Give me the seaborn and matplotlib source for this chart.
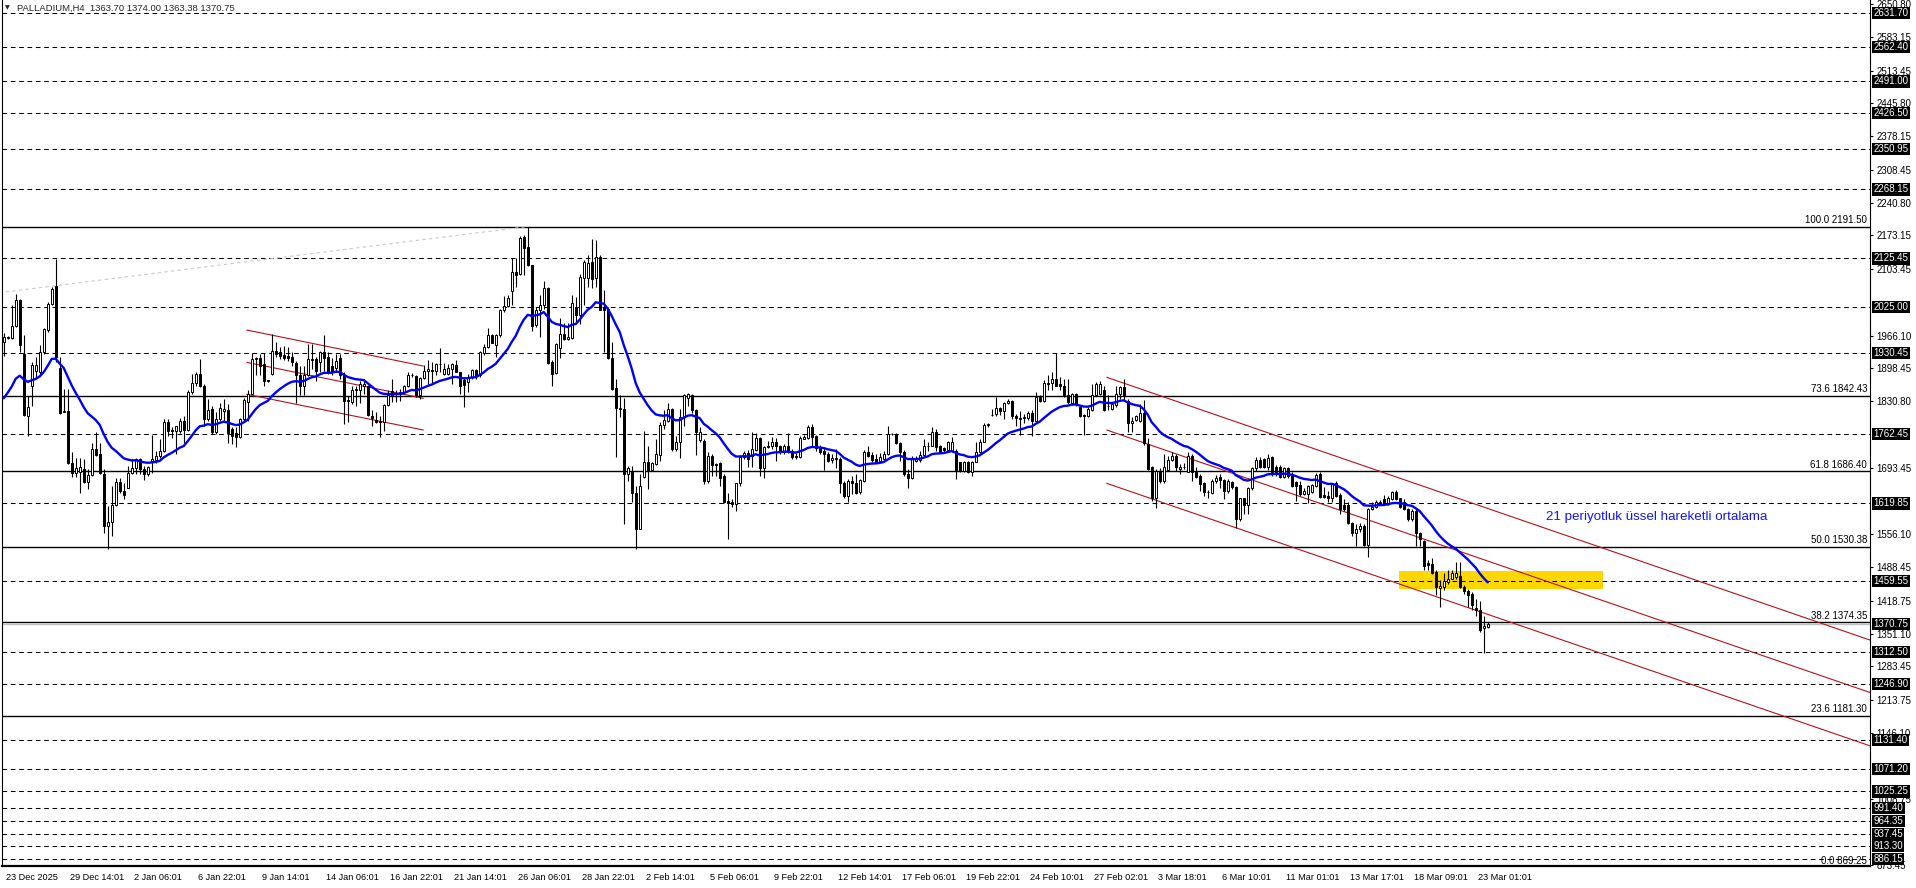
import numpy as np
import matplotlib
matplotlib.use("Agg")
import matplotlib.pyplot as plt
import matplotlib.transforms as mtrans
from matplotlib.patches import Rectangle
import seaborn as sns

# PALLADIUM H4 candles (bar 0 = 23 Dec 2025)
opens = [
    1953, 1962, 1961, 1986, 2040, 1929, 1801, 1863, 1894, 1891, 1932, 1977,
    2032, 2069, 1899, 1808, 1810, 1704, 1683, 1685, 1690, 1664, 1678, 1733,
    1721, 1680, 1574, 1581, 1616, 1664, 1645, 1652, 1683, 1692, 1711, 1691,
    1680, 1708, 1710, 1717, 1728, 1788, 1771, 1770, 1770, 1790, 1772, 1849,
    1868, 1887, 1862, 1794, 1814, 1768, 1794, 1811, 1812, 1774, 1765, 1756,
    1794, 1830, 1846, 1917, 1920, 1908, 1874, 1887, 1935, 1933, 1926, 1924,
    1922, 1910, 1885, 1863, 1884, 1915, 1918, 1911, 1932, 1922, 1903, 1899,
    1920, 1885, 1833, 1830, 1853, 1853, 1863, 1863, 1801, 1793, 1791, 1787,
    1822, 1851, 1848, 1846, 1850, 1863, 1884, 1882, 1844, 1879, 1893, 1895,
    1894, 1907, 1886, 1888, 1898, 1906, 1891, 1875, 1870, 1881, 1895, 1884,
    1931, 1943, 1968, 1946, 1967, 2019, 2028, 2058, 2098, 2093, 2169, 2150,
    2111, 1988, 2019, 2029, 2065, 1912, 1889, 1941, 1970, 1960, 1961, 2026,
    2008, 2086, 2086, 2119, 2086, 2129, 2026, 2022, 1920, 1858, 1814, 1815,
    1680, 1687, 1642, 1568, 1675, 1706, 1689, 1701, 1720, 1782, 1791, 1814,
    1733, 1746, 1798, 1838, 1844, 1812, 1751, 1749, 1667, 1717, 1701, 1703,
    1677, 1625, 1622, 1618, 1662, 1715, 1724, 1718, 1731, 1754, 1692, 1736,
    1738, 1747, 1738, 1725, 1739, 1729, 1718, 1715, 1753, 1754, 1777, 1758,
    1734, 1729, 1722, 1710, 1714, 1711, 1663, 1636, 1667, 1663, 1644, 1667,
    1725, 1720, 1711, 1708, 1711, 1722, 1764, 1763, 1745, 1727, 1680, 1673,
    1708, 1710, 1720, 1738, 1739, 1767, 1738, 1734, 1731, 1729, 1729, 1705,
    1687, 1706, 1684, 1706, 1725, 1747, 1781, 1802, 1805, 1817, 1810, 1828,
    1832, 1800, 1796, 1797, 1796, 1807, 1791, 1839, 1832, 1867, 1869, 1877,
    1867, 1863, 1844, 1828, 1846, 1819, 1803, 1800, 1812, 1844, 1846, 1853,
    1821, 1814, 1822, 1846, 1860, 1832, 1786, 1793, 1791, 1807, 1743, 1694,
    1630, 1687, 1666, 1689, 1710, 1717, 1691, 1694, 1685, 1717, 1685, 1677,
    1662, 1644, 1641, 1666, 1675, 1669, 1646, 1664, 1653, 1588, 1630, 1616,
    1651, 1692, 1710, 1711, 1694, 1715, 1696, 1696, 1675, 1692, 1680, 1664,
    1657, 1639, 1639, 1644, 1656, 1680, 1637, 1635, 1632, 1662, 1637, 1616,
    1616, 1579, 1558, 1568, 1574, 1535, 1608, 1613, 1620, 1628, 1618, 1628,
    1644, 1630, 1623, 1609, 1587, 1604, 1558, 1542, 1496, 1494, 1478, 1445,
    1447, 1457, 1464, 1468, 1469, 1448, 1438, 1433, 1404, 1399, 1362, 1363.70,
]
highs = [
    1971, 1966, 2029, 2053, 2041, 1967, 1842, 1911, 1922, 1946, 1982, 2036,
    2067, 2124, 1922, 1856, 1856, 1725, 1714, 1714, 1711, 1690, 1744, 1768,
    1744, 1690, 1614, 1656, 1672, 1672, 1663, 1698, 1712, 1714, 1714, 1697,
    1697, 1761, 1728, 1752, 1794, 1794, 1777, 1780, 1797, 1801, 1853, 1887,
    1891, 1917, 1866, 1835, 1821, 1808, 1827, 1835, 1825, 1777, 1777, 1797,
    1837, 1855, 1931, 1922, 1929, 1931, 1875, 1969, 1954, 1942, 1944, 1942,
    1932, 1913, 1903, 1904, 1949, 1949, 1922, 1935, 1967, 1932, 1920, 1929,
    1929, 1891, 1842, 1863, 1863, 1873, 1877, 1864, 1812, 1808, 1800, 1825,
    1853, 1877, 1853, 1856, 1865, 1892, 1890, 1884, 1881, 1905, 1915, 1912,
    1910, 1941, 1910, 1908, 1910, 1915, 1892, 1881, 1888, 1898, 1898, 1934,
    1948, 1981, 1970, 1970, 2022, 2049, 2051, 2127, 2126, 2171, 2174, 2191.5,
    2113, 2026, 2050, 2078, 2067, 1915, 1952, 2002, 1993, 1993, 2050, 2046,
    2093, 2122, 2133, 2166, 2164, 2133, 2060, 2026, 1953, 1877, 1843, 1837,
    1698, 1698, 1656, 1680, 1770, 1738, 1706, 1753, 1787, 1812, 1827, 1816,
    1760, 1815, 1846, 1847, 1846, 1815, 1777, 1753, 1725, 1722, 1704, 1706,
    1680, 1641, 1628, 1663, 1720, 1729, 1731, 1768, 1765, 1756, 1739, 1749,
    1756, 1754, 1741, 1743, 1765, 1732, 1724, 1758, 1761, 1781, 1784, 1761,
    1741, 1736, 1727, 1722, 1732, 1715, 1667, 1670, 1677, 1680, 1670, 1731,
    1739, 1725, 1722, 1724, 1729, 1779, 1765, 1765, 1746, 1731, 1691, 1718,
    1718, 1729, 1753, 1746, 1777, 1774, 1741, 1736, 1749, 1756, 1732, 1705,
    1708, 1708, 1708, 1746, 1753, 1786, 1786, 1815, 1839, 1819, 1830, 1836,
    1834, 1805, 1810, 1805, 1810, 1812, 1850, 1843, 1874, 1884, 1891, 1931,
    1881, 1877, 1877, 1848, 1848, 1822, 1805, 1819, 1867, 1870, 1872, 1862,
    1843, 1828, 1863, 1863, 1876, 1836, 1798, 1803, 1825, 1834, 1754, 1698,
    1691, 1692, 1722, 1717, 1725, 1722, 1701, 1703, 1725, 1722, 1694, 1680,
    1664, 1648, 1671, 1678, 1680, 1671, 1670, 1666, 1656, 1632, 1632, 1653,
    1694, 1715, 1715, 1713, 1722, 1718, 1699, 1699, 1694, 1694, 1684, 1666,
    1666, 1651, 1657, 1660, 1682, 1685, 1653, 1646, 1663, 1666, 1641, 1628,
    1622, 1581, 1577, 1579, 1577, 1611, 1622, 1627, 1627, 1637, 1635, 1646,
    1648, 1632, 1628, 1611, 1609, 1608, 1561, 1545, 1504, 1507, 1483, 1462,
    1476, 1483, 1483, 1498, 1498, 1452, 1443, 1436, 1422, 1418, 1388, 1374.00,
]
lows = [
    1925, 1960, 1960, 1984, 1932, 1801, 1758, 1821, 1877, 1884, 1929, 1974,
    2029, 1911, 1804, 1808, 1701, 1675, 1675, 1642, 1663, 1649, 1676, 1718,
    1680, 1559, 1526, 1553, 1614, 1642, 1628, 1652, 1680, 1680, 1680, 1669,
    1676, 1683, 1704, 1714, 1725, 1759, 1754, 1721, 1766, 1745, 1770, 1846,
    1863, 1860, 1780, 1790, 1763, 1763, 1790, 1790, 1745, 1742, 1737, 1754,
    1790, 1790, 1846, 1884, 1884, 1863, 1870, 1885, 1922, 1918, 1915, 1913,
    1904, 1828, 1844, 1844, 1882, 1897, 1873, 1891, 1894, 1887, 1884, 1891,
    1877, 1783, 1787, 1825, 1821, 1828, 1846, 1801, 1780, 1786, 1756, 1770,
    1821, 1829, 1829, 1832, 1846, 1860, 1881, 1839, 1836, 1877, 1867, 1867,
    1884, 1891, 1884, 1885, 1867, 1891, 1846, 1818, 1850, 1877, 1877, 1881,
    1926, 1941, 1950, 1922, 1964, 2015, 2026, 2029, 2067, 2092, 2092, 2109,
    1975, 1984, 1964, 2022, 1908, 1863, 1888, 1920, 1957, 1957, 1960, 1995,
    1991, 2029, 2067, 2064, 2067, 2019, 1932, 1919, 1853, 1715, 1798, 1577,
    1666, 1622, 1525, 1566, 1673, 1649, 1687, 1699, 1708, 1774, 1787, 1729,
    1729, 1713, 1780, 1820, 1807, 1720, 1746, 1660, 1662, 1677, 1677, 1656,
    1620, 1546, 1613, 1604, 1656, 1711, 1696, 1694, 1729, 1677, 1673, 1734,
    1732, 1708, 1722, 1722, 1724, 1711, 1711, 1713, 1752, 1753, 1736, 1729,
    1722, 1689, 1705, 1703, 1692, 1641, 1632, 1623, 1639, 1639, 1639, 1665,
    1715, 1705, 1703, 1706, 1710, 1720, 1761, 1743, 1708, 1677, 1651, 1671,
    1706, 1706, 1718, 1729, 1738, 1729, 1725, 1725, 1729, 1727, 1670, 1684,
    1685, 1682, 1677, 1705, 1724, 1746, 1777, 1800, 1800, 1803, 1794, 1826,
    1794, 1779, 1761, 1786, 1793, 1758, 1789, 1830, 1830, 1853, 1853, 1862,
    1853, 1839, 1826, 1823, 1821, 1798, 1761, 1798, 1810, 1843, 1843, 1810,
    1812, 1812, 1818, 1836, 1832, 1767, 1768, 1791, 1787, 1740, 1689, 1625,
    1611, 1663, 1663, 1687, 1708, 1687, 1680, 1691, 1684, 1666, 1673, 1646,
    1635, 1630, 1639, 1663, 1651, 1628, 1642, 1649, 1570, 1583, 1597, 1597,
    1648, 1687, 1692, 1692, 1689, 1677, 1677, 1673, 1673, 1673, 1653, 1625,
    1635, 1637, 1620, 1641, 1653, 1632, 1630, 1623, 1622, 1634, 1597, 1604,
    1577, 1552, 1532, 1561, 1532, 1510, 1606, 1611, 1618, 1616, 1616, 1627,
    1627, 1611, 1606, 1584, 1584, 1532, 1532, 1483, 1483, 1475, 1431, 1407,
    1442, 1454, 1463, 1464, 1445, 1433, 1407, 1400, 1387, 1355, 1311, 1363.38,
]
closes = [
    1963, 1963, 1986, 2039, 1947, 1802, 1818, 1906, 1906, 1933, 1980, 2032,
    2063, 1922, 1806, 1811, 1703, 1683, 1693, 1694, 1664, 1678, 1733, 1719,
    1683, 1574, 1581, 1616, 1664, 1645, 1637, 1683, 1692, 1711, 1690, 1680,
    1694, 1711, 1717, 1728, 1788, 1770, 1769, 1779, 1790, 1772, 1849, 1868,
    1887, 1862, 1794, 1813, 1768, 1794, 1816, 1814, 1766, 1759, 1756, 1794,
    1833, 1846, 1918, 1920, 1904, 1873, 1873, 1935, 1929, 1924, 1920, 1920,
    1911, 1885, 1863, 1884, 1918, 1918, 1894, 1932, 1920, 1891, 1892, 1913,
    1885, 1832, 1832, 1853, 1856, 1866, 1866, 1802, 1796, 1787, 1787, 1822,
    1843, 1843, 1847, 1850, 1863, 1885, 1885, 1844, 1879, 1893, 1897, 1894,
    1908, 1908, 1898, 1899, 1908, 1892, 1863, 1865, 1881, 1895, 1884, 1932,
    1943, 1968, 1950, 1968, 2019, 2028, 2043, 2098, 2092, 2167, 2148, 2111,
    1986, 2019, 2029, 2064, 1910, 1888, 1948, 1970, 1960, 1963, 2034, 2008,
    2088, 2119, 2117, 2084, 2129, 2019, 2019, 1920, 1856, 1816, 1816, 1680,
    1692, 1642, 1568, 1656, 1706, 1689, 1703, 1722, 1782, 1793, 1814, 1733,
    1747, 1798, 1843, 1845, 1812, 1768, 1767, 1667, 1717, 1699, 1700, 1673,
    1622, 1620, 1618, 1662, 1715, 1724, 1711, 1732, 1754, 1692, 1736, 1738,
    1746, 1738, 1725, 1739, 1729, 1715, 1715, 1754, 1756, 1777, 1756, 1734,
    1727, 1722, 1708, 1713, 1711, 1663, 1636, 1667, 1662, 1642, 1669, 1725,
    1717, 1710, 1706, 1715, 1722, 1763, 1763, 1745, 1727, 1680, 1673, 1711,
    1711, 1720, 1739, 1739, 1767, 1736, 1727, 1731, 1747, 1747, 1689, 1687,
    1706, 1684, 1706, 1727, 1746, 1782, 1784, 1803, 1817, 1810, 1828, 1832,
    1800, 1796, 1795, 1798, 1807, 1791, 1839, 1832, 1869, 1869, 1877, 1863,
    1863, 1844, 1829, 1846, 1826, 1800, 1800, 1815, 1844, 1867, 1867, 1812,
    1820, 1825, 1846, 1860, 1843, 1786, 1791, 1800, 1807, 1745, 1691, 1630,
    1687, 1666, 1694, 1710, 1717, 1694, 1695, 1696, 1717, 1685, 1675, 1660,
    1644, 1643, 1666, 1673, 1669, 1646, 1666, 1653, 1588, 1630, 1616, 1651,
    1692, 1710, 1694, 1694, 1713, 1685, 1685, 1675, 1692, 1677, 1655, 1655,
    1639, 1646, 1656, 1657, 1678, 1634, 1634, 1632, 1662, 1635, 1608, 1608,
    1579, 1558, 1568, 1574, 1535, 1608, 1613, 1622, 1623, 1618, 1630, 1644,
    1628, 1613, 1608, 1587, 1604, 1558, 1546, 1490, 1492, 1476, 1447, 1450,
    1459, 1464, 1476, 1476, 1447, 1438, 1431, 1411, 1399, 1359, 1367, 1370.75,
]

ema_period = 21
ema_seed = 1837.0   # EMA value at the first visible bar

date_labels = ["23 Dec 2025", "29 Dec 14:01", "2 Jan 06:01", "6 Jan 22:01", "9 Jan 14:01",
               "14 Jan 06:01", "16 Jan 22:01", "21 Jan 14:01", "26 Jan 06:01", "28 Jan 22:01",
               "2 Feb 14:01", "5 Feb 06:01", "9 Feb 22:01", "12 Feb 14:01", "17 Feb 06:01",
               "19 Feb 22:01", "24 Feb 10:01", "27 Feb 02:01", "3 Mar 18:01", "6 Mar 10:01",
               "11 Mar 01:01", "13 Mar 17:01", "18 Mar 09:01", "23 Mar 01:01"]
label_every = 16

# right-axis scale labels (those hidden behind level boxes are left out)
price_ticks = [2650.80, 2583.15, 2513.45, 2445.80, 2378.15, 2308.45, 2240.80, 2173.15, 2103.45,
               1966.10, 1898.45, 1830.80, 1693.45, 1556.10, 1488.45,
               1418.75, 1351.10, 1283.45, 1213.75, 1146.10, 1008.75, 873.45]

# horizontal support/resistance levels (dashed) and the bid line
levels = [2631.70, 2562.40, 2491.00, 2426.50, 2350.95, 2268.15, 2125.45, 2025.00, 1930.45,
          1762.45, 1619.85, 1459.55, 1312.50, 1246.90, 1131.40, 1071.20, 1025.25, 991.40,
          964.35, 937.45, 913.30, 886.15]
bid = 1370.75

# fibonacci retracement
fib_pct = [100.0, 73.6, 61.8, 50.0, 38.2, 23.6, 0.0]
fib_vals = [2191.50, 1842.43, 1686.40, 1530.38, 1374.35, 1181.30, 869.25]
fib_line_x = [-1146, 131]
fib_line_y = [869.25, 2191.50]

# trend channels (bar index, price anchors)
jan_chan_x = [60.75, 104.9]
jan_chan_y = [[1977.8, 1903.5], [1911.1, 1836.8], [1845.1, 1771.4]]
mar_chan_x = [275.75, 374.1]
mar_chan_y = [[1880.2, 1600.6], [1771.4, 1492.1], [1661.3, 1382.0]]

# highlighted zone
zone_x = [348.8, 399.75]
zone_y = [1443.1, 1480.3]

sns.set_style("white")
plt.rcParams["font.family"] = ["Liberation Sans", "DejaVu Sans"]

o = np.array(opens, float)
c = np.array(closes, float)
h = np.maximum(np.array(highs, float), np.maximum(o, c))
l = np.minimum(np.array(lows, float), np.minimum(o, c))
bars = np.arange(len(c))

alpha = 2.0 / (ema_period + 1)
ema = [ema_seed]
for v in c[1:]:
    ema.append(ema[-1] + alpha * (v - ema[-1]))

W, H = 1916, 888
fig = plt.figure(figsize=(W / 100, H / 100), dpi=100)
ax = fig.add_axes([2 / W, 22 / H, 1868 / W, 866 / H])
xmin, xmax = -0.425, 466.575
ax.set_xlim(xmin, xmax)
ax.set_ylim(871.3, 2659.1)

# zone
ax.add_patch(Rectangle((zone_x[0], zone_y[0]), zone_x[1] - zone_x[0], zone_y[1] - zone_y[0],
                       facecolor="#FFD700", edgecolor="none", zorder=0.5))

for v in levels:
    ax.axhline(v, color="black", lw=0.75, ls=(0, (4.5, 3.5)), zorder=1)
for v in fib_vals:
    ax.axhline(v, color="black", lw=1.0, zorder=1)
ax.axhline(bid, color="#c0c0c0", lw=1.0, zorder=1)

ax.plot(fib_line_x, fib_line_y, color="#c8c8c8", lw=0.8, ls=(0, (3, 3)), zorder=1)

red = "#b5121b"
for ys in jan_chan_y:
    ax.plot(jan_chan_x, ys, color=red, lw=0.8, zorder=2)
for ys in mar_chan_y:
    slope = (ys[1] - ys[0]) / (mar_chan_x[1] - mar_chan_x[0])
    ax.plot([mar_chan_x[0], xmax], [ys[0], ys[0] + slope * (xmax - mar_chan_x[0])],
            color=red, lw=0.8, zorder=2)

# candles
up = c >= o
ax.vlines(bars, l, h, color="black", lw=0.8, zorder=3)
ax.bar(bars, np.abs(c - o), bottom=np.minimum(o, c), width=0.55,
       color=np.where(up, "white", "black"), edgecolor="black", linewidth=0.7, zorder=4)

sns.lineplot(x=bars, y=ema, ax=ax, color="#0000ff", linewidth=1.7, zorder=5)

ax.text(385.6, 1591.8, "21 periyotluk üssel hareketli ortalama", color="#1414ff",
        fontsize=9.6, va="center", ha="left", zorder=6)

# fib labels
for p, v in zip(fib_pct, fib_vals):
    ax.annotate(f"{p:.1f} {v:.2f}", xy=(1, v), xycoords=("axes fraction", "data"),
                xytext=(-2, 1), textcoords="offset points", ha="right", va="bottom",
                fontsize=7, color="black", zorder=6)

# axes styling
ax.spines["top"].set_visible(False)
ax.spines["left"].set_linewidth(0.8)
ax.spines["right"].set_linewidth(0.8)
ax.spines["bottom"].set_linewidth(1.6)
for s in ["left", "right", "bottom"]:
    ax.spines[s].set_color("black")

ax.yaxis.tick_right()
ax.set_yticks(price_ticks)
ax.set_yticklabels([f"{v:.2f}" for v in price_ticks])
ax.tick_params(axis="y", direction="out", length=2.5, width=0.8, pad=2, labelsize=7,
               colors="black", left=False, right=True)

ax.set_xticks(bars[::label_every][:len(date_labels)])
ax.set_xticklabels(date_labels)
ax.tick_params(axis="x", direction="out", length=3.5, width=0.8, pad=1.5, labelsize=6.6,
               colors="black")
shift = mtrans.ScaledTranslation(2 / 100, 0, fig.dpi_scale_trans)
for lbl in ax.get_xticklabels():
    lbl.set_ha("left")
    lbl.set_transform(lbl.get_transform() + shift)
ax.grid(False)
ax.set_xlabel("")
ax.set_ylabel("")

# boxed price labels on the right axis
for v in levels + [bid]:
    ax.annotate(f"{v:.2f}", xy=(1, v), xycoords=("axes fraction", "data"),
                xytext=(2.6, 0), textcoords="offset points", ha="left", va="center",
                fontsize=7, color="white", annotation_clip=False, zorder=10,
                bbox=dict(boxstyle="square,pad=0.12", fc="black", ec="none"))

# symbol header
fig.text(5 / W, 1 - 8 / H, "▼", fontsize=4.5, va="center", ha="left",
         family=["DejaVu Sans"])
fig.text(17 / W, 1 - 8 / H,
         f"PALLADIUM,H4  {opens[-1]:.2f} {highs[-1]:.2f} {lows[-1]:.2f} {closes[-1]:.2f}",
         fontsize=6.8, va="center", ha="left")

fig.savefig("out.png", dpi=100, facecolor="white")
